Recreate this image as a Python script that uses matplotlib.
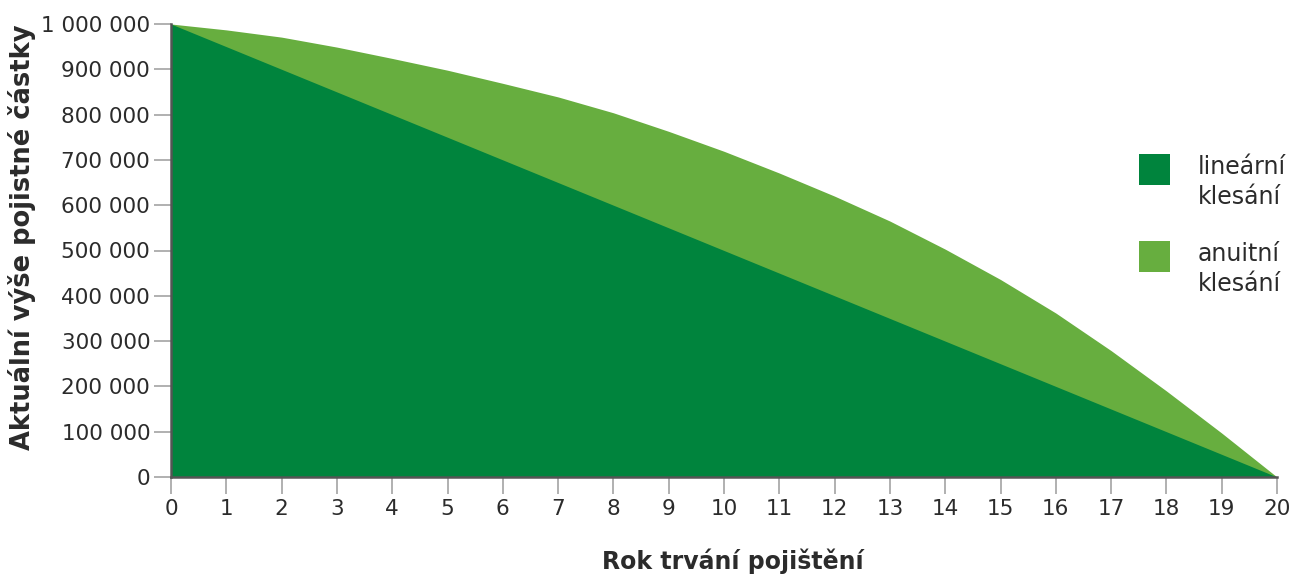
import matplotlib
matplotlib.use("Agg")
import matplotlib.pyplot as plt
from matplotlib.patches import Rectangle
from matplotlib.ticker import FuncFormatter

# rok trvani pojisteni
years = list(range(0, 21))

# linearni klesani - aktualni vyse pojistne castky
linear = [1000000, 950000, 900000, 850000, 800000, 750000, 700000, 650000, 600000,
          550000, 500000, 450000, 400000, 350000, 300000, 250000, 200000, 150000,
          100000, 50000, 0]

# anuitni klesani
annuity = [1000000, 987000, 971000, 949000, 924000, 898000, 869000, 839000, 804000,
           763000, 719000, 671000, 620000, 565000, 503000, 436000, 362000, 279000,
           190000, 97000, 0]

labels = ["lineární\nklesání", "anuitní\nklesání"]
colors = ["#00843D", "#67AE3F"]

x_ticks = list(range(0, 21))
y_ticks = list(range(0, 1000001, 100000))

plt.rcParams["font.family"] = ["DejaVu Sans"]

fig = plt.figure(figsize=(13.01, 5.75), dpi=100)
ax = fig.add_axes([171 / 1301, 1 - 477 / 575, (1277 - 171) / 1301, (477 - 24) / 575])

ax.fill_between(years, annuity, color=colors[1], linewidth=0)
ax.fill_between(years, linear, color=colors[0], linewidth=0)

ax.set_xlim(0, 20)
ax.set_ylim(0, 1000000)
ax.set_xticks(x_ticks)
ax.set_yticks(y_ticks)
ax.yaxis.set_major_formatter(FuncFormatter(lambda v, p: f"{int(v):,}".replace(",", " ")))

for side in ["top", "right"]:
    ax.spines[side].set_visible(False)
for side in ["left", "bottom"]:
    ax.spines[side].set_color("#555555")
    ax.spines[side].set_linewidth(1.8)

ax.tick_params(axis="both", direction="out", length=12, width=1.4, color="#b0b0b0",
               labelsize=15.5, labelcolor="#2b2b2b")
ax.tick_params(axis="y", pad=3)
ax.tick_params(axis="x", pad=4)

fig.text(733 / 1301, 1 - 561 / 575, "Rok trvání pojištění", ha="center", va="center",
         fontsize=17, fontweight="bold", color="#2b2b2b")
fig.text(22 / 1301, 1 - 237 / 575, "Aktuální výše pojistné částky", ha="center", va="center",
         rotation=90, fontsize=18.5, fontweight="bold", color="#2b2b2b")

# legenda
for i, (lab, col) in enumerate(zip(labels, colors)):
    top = 154 + i * 87
    fig.add_artist(Rectangle((1139 / 1301, 1 - (top + 31) / 575), 31 / 1301, 31 / 575,
                             transform=fig.transFigure, facecolor=col, edgecolor="none"))
    fig.text(1198 / 1301, 1 - (top + 1) / 575, lab, ha="left", va="top", fontsize=17,
             color="#2b2b2b", linespacing=1.3)

fig.savefig("out.png", dpi=100)
